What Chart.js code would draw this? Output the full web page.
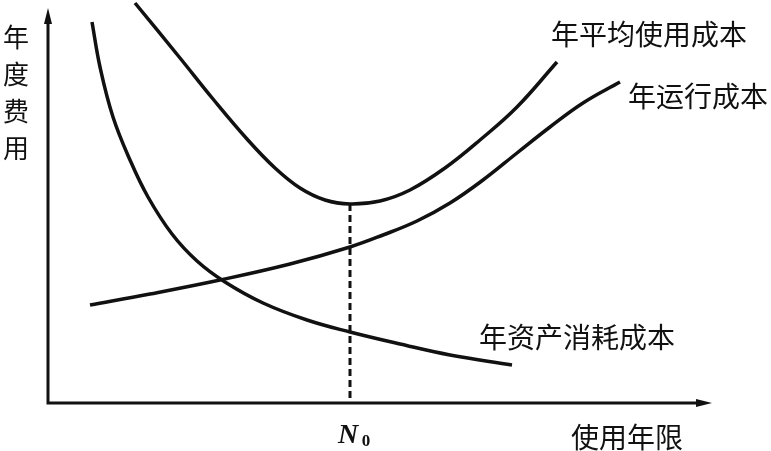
<!DOCTYPE html>
<html>
<head>
<meta charset="utf-8">
<script src="https://cdn.jsdelivr.net/npm/chart.js@4"></script>
<style>
  html, body { margin: 0; padding: 0; background: #fff; }
  #wrap { width: 771px; height: 451px; position: relative; }
</style>
</head>
<body>
<div id="wrap"><canvas id="costChart"></canvas></div>
<script>
// curve values (x = years of use, y = annual cost, arbitrary units)
const avgCostX = [87, 132, 165, 199, 227, 252, 277, 302, 332, 362, 397, 432, 469, 509];
const avgCostY = [400, 345, 304, 264, 235, 215, 203, 199, 202, 213, 235, 263, 296, 341];

const runCostX = [42, 102, 172, 242, 302, 335, 369, 402, 435, 469, 502, 535, 572];
const runCostY = [98, 109, 123, 139, 156, 168, 182, 200, 223, 250, 276, 300, 321];

const assetCostX = [44, 52, 65, 82, 100, 124, 149, 177, 215, 259, 302, 352, 402, 464];
const assetCostY = [381, 336, 286, 243, 206, 169, 142, 121, 100, 83, 71, 59, 48, 38];

const optimalYear = 302;   // N0
const xMax = 723, yMax = 403;
const xAxisEnd = 664, yAxisEnd = 395;

const INK = '#111';
const CJK = '"Noto Sans CJK SC", "Noto Sans", sans-serif';

function toPoints(xs, ys) {
    return xs.map((x, i) => ({ x: x, y: ys[i] }));
}

function curve(label, xs, ys) {
    return {
        label: label,
        data: toPoints(xs, ys),
        showLine: true,
        borderColor: INK,
        borderWidth: 3.5,
        pointRadius: 0,
        tension: 0.4,
        fill: false
    };
}

const minAvg = avgCostY[avgCostX.indexOf(optimalYear)];

// axes with arrows, N0 label and the curve names
const decorPlugin = {
    id: 'decor',
    afterDatasetsDraw(chart) {
        const ctx = chart.ctx;
        const xs = chart.scales.x, ys = chart.scales.y;
        const x0 = xs.getPixelForValue(0), y0 = ys.getPixelForValue(0);
        const xEnd = xs.getPixelForValue(xAxisEnd), yEnd = ys.getPixelForValue(yAxisEnd);
        ctx.save();
        ctx.strokeStyle = INK;
        ctx.fillStyle = INK;
        ctx.lineWidth = 3;
        ctx.beginPath();
        ctx.moveTo(x0, yEnd + 10);
        ctx.lineTo(x0, y0);
        ctx.lineTo(xEnd - 10, y0);
        ctx.stroke();
        // arrow heads
        ctx.beginPath();
        ctx.moveTo(x0, yEnd);
        ctx.lineTo(x0 - 4, yEnd + 16);
        ctx.lineTo(x0 + 4, yEnd + 16);
        ctx.closePath();
        ctx.fill();
        ctx.beginPath();
        ctx.moveTo(xEnd, y0);
        ctx.lineTo(xEnd - 16, y0 - 4);
        ctx.lineTo(xEnd - 16, y0 + 4);
        ctx.closePath();
        ctx.fill();

        // text
        ctx.textBaseline = 'middle';
        ctx.font = '26px ' + CJK;
        ctx.textAlign = 'center';
        ['年', '度', '费', '用'].forEach((ch, i) => ctx.fillText(ch, 16, 37 + i * 37));
        ctx.font = '28px ' + CJK;
        ctx.textAlign = 'left';
        ctx.fillText('使用年限', 571, 437);
        ctx.fillText('年平均使用成本', 551, 34);
        ctx.fillText('年运行成本', 628, 96);
        ctx.fillText('年资产消耗成本', 479, 337);

        const nx = xs.getPixelForValue(optimalYear);
        ctx.textAlign = 'center';
        ctx.font = 'italic bold 28px "Liberation Serif", serif';
        ctx.fillText('N', nx - 2, 436);
        ctx.font = 'bold 17px "Liberation Serif", serif';
        ctx.fillText('0', nx + 16, 442);
        ctx.restore();
    }
};

new Chart(document.getElementById('costChart'), {
    type: 'scatter',
    data: {
        datasets: [
            curve('年平均使用成本', avgCostX, avgCostY),
            curve('年运行成本', runCostX, runCostY),
            curve('年资产消耗成本', assetCostX, assetCostY),
            {
                label: 'N0',
                data: [{ x: optimalYear, y: minAvg }, { x: optimalYear, y: 0 }],
                showLine: true,
                borderColor: INK,
                borderWidth: 3,
                borderDash: [7, 4],
                pointRadius: 0
            }
        ]
    },
    options: {
        responsive: true,
        maintainAspectRatio: false,
        animation: false,
        layout: { padding: { left: 48, right: 0, top: 0, bottom: 48 } },
        plugins: { legend: { display: false }, tooltip: { enabled: false } },
        scales: {
            x: { type: 'linear', min: 0, max: xMax, display: false },
            y: { type: 'linear', min: 0, max: yMax, display: false }
        }
    },
    plugins: [decorPlugin]
});
</script>
</body>
</html>
